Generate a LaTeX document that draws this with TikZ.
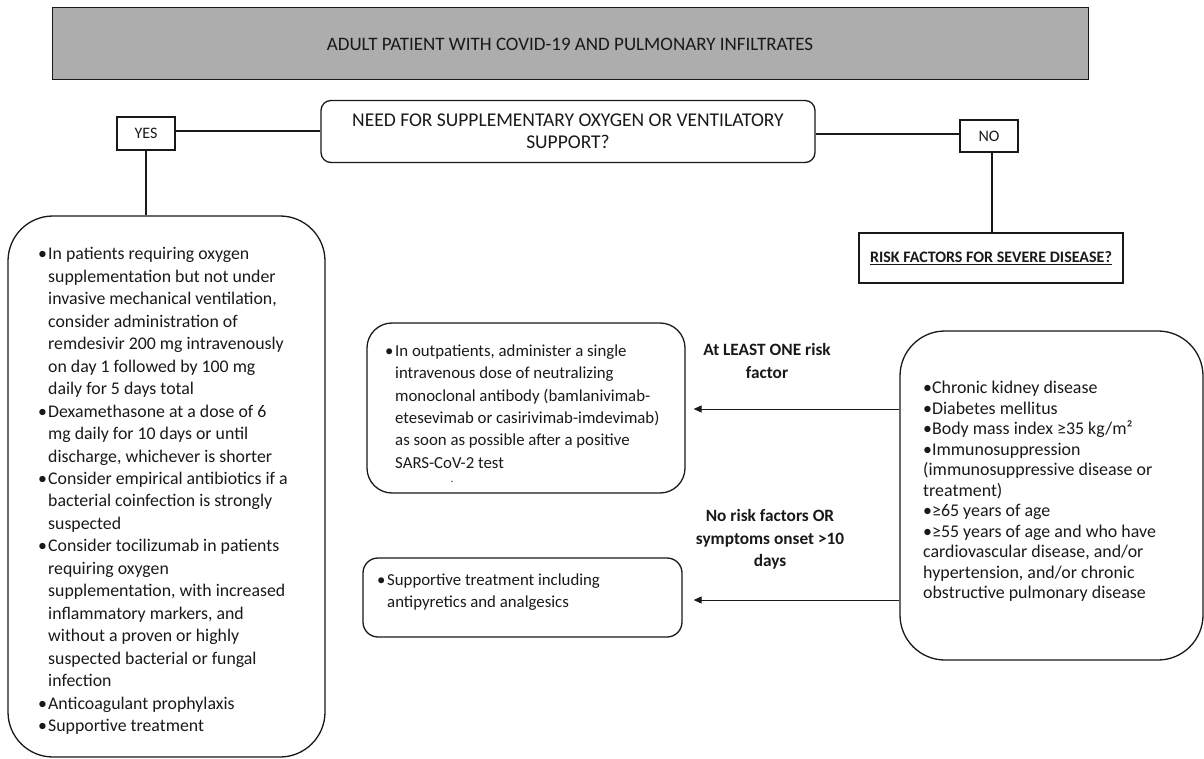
\documentclass[tikz,border=0pt]{standalone}
\usepackage{fontspec}
\setmainfont{Carlito}
\usetikzlibrary{arrows.meta}
\definecolor{hdrgray}{RGB}{173,173,173}
\definecolor{ink}{RGB}{25,25,25}
\newcommand{\bul}{\makebox[10pt][l]{•}}
\newcommand{\ind}{\hspace*{10pt}}
\begin{document}
\begin{tikzpicture}[x=1pt,y=-1pt,
  every node/.style={text=ink},
  rbox/.style={draw=ink, line width=1.3pt, rounded corners=#1, inner sep=0pt},
  sbox/.style={draw=ink, line width=1.5pt, inner sep=0pt},
  txt/.style={anchor=west, inner sep=0pt, align=left},
  link/.style={draw=ink, line width=2pt},
  arr/.style={draw=ink, line width=0.9pt, -{Triangle[length=8pt,width=7pt]}},
  lab/.style={font=\fontsize{17.3}{22.4}\selectfont\bfseries, align=center, inner sep=0pt}]
\useasboundingbox (0,0) rectangle (1204,759);

% header
\node[draw=ink, line width=1pt, fill=hdrgray, minimum width=1036pt, minimum height=72pt, inner sep=0pt,
  font=\fontsize{19}{22}\selectfont] (hdr) at (570,44)
  {ADULT PATIENT WITH COVID-19 AND PULMONARY INFILTRATES};

% question
\node[rbox=10pt, align=center, minimum width=494pt, minimum height=62pt,
  font=\fontsize{19.5}{22}\selectfont] (q) at (568,131.5)
  {NEED FOR SUPPLEMENTARY OXYGEN OR VENTILATORY\\SUPPORT?};

% yes / no
\node[sbox, minimum width=58pt, minimum height=33pt, font=\fontsize{16}{18}\selectfont] (yes) at (146,133.5) {YES};
\node[sbox, minimum width=58pt, minimum height=32pt, font=\fontsize{16}{18}\selectfont] (no) at (989,136) {NO};

% risk factors question
\node[sbox, minimum width=264pt, minimum height=50pt, font=\fontsize{16}{20}\selectfont\bfseries] (risk) at (991,258)
  {\underline{RISK FACTORS FOR SEVERE DISEASE?}};

% boxes
\node[rbox=45pt, minimum width=317pt, minimum height=541pt] (L) at (166.5,486.5) {};
\node[rbox=25pt, minimum width=318pt, minimum height=170pt] (m1) at (526,408) {};
\node[rbox=15pt, minimum width=319pt, minimum height=79pt] (m2) at (522.5,597.5) {};
\node[rbox=45pt, minimum width=303pt, minimum height=329pt] (R) at (1051.5,495.5) {};

% box texts
\node[txt, font=\fontsize{17.8}{22.45}\selectfont] (Lt) at (38,491)
  {\bul In patients requiring oxygen\\
   \ind supplementation but not under\\
   \ind invasive mechanical ventilation,\\
   \ind consider administration of\\
   \ind remdesivir 200 mg intravenously\\
   \ind on day 1 followed by 100 mg\\
   \ind daily for 5 days total\\
   \bul Dexamethasone at a dose of 6\\
   \ind mg daily for 10 days or until\\
   \ind discharge, whichever is shorter\\
   \bul Consider empirical antibiotics if a\\
   \ind bacterial coinfection is strongly\\
   \ind suspected\\
   \bul Consider tocilizumab in patients\\
   \ind requiring oxygen\\
   \ind supplementation, with increased\\
   \ind inflammatory markers, and\\
   \ind without a proven or highly\\
   \ind suspected bacterial or fungal\\
   \ind infection\\
   \bul Anticoagulant prophylaxis\\
   \bul Supportive treatment};

\node[txt, font=\fontsize{16.8}{22.4}\selectfont] (m1t) at (385,406.5)
  {\bul In outpatients, administer a single\\
   \ind intravenous dose of neutralizing\\
   \ind monoclonal antibody (bamlanivimab-\\
   \ind etesevimab or casirivimab-imdevimab)\\
   \ind as soon as possible after a positive\\
   \ind SARS-CoV-2 test};
\node[inner sep=0pt, font=\fontsize{11}{12}\selectfont] (m1dot) at (452,482) {.};

\node[txt, font=\fontsize{16.8}{22.4}\selectfont] (m2t) at (377,592)
  {\bul Supportive treatment including\\
   \ind antipyretics and analgesics};

\node[txt, font=\fontsize{17.9}{20.5}\selectfont] (Rt) at (923,491.5)
  {•Chronic kidney disease\\
   •Diabetes mellitus\\
   •Body mass index ≥35 kg/m²\\
   •Immunosuppression\\
   (immunosuppressive disease or\\
   treatment)\\
   •≥65 years of age\\
   •≥55 years of age and who have\\
   cardiovascular disease, and/or\\
   hypertension, and/or chronic\\
   obstructive pulmonary disease};

% connectors
\draw[link] (q.west |- 0,131) -- (yes.east |- 0,131);
\draw[link] (q.east |- 0,134) -- (no.west |- 0,134);
\draw[link] (yes.south) -- (yes.south |- L.north);
\draw[link] ([xshift=3pt]no.south) -- ([xshift=3pt]no.south |- risk.north);

\draw[arr] (R.west |- 0,409) -- ([xshift=8pt]m1.east |- 0,409);
\draw[arr] (R.west |- 0,600) -- ([xshift=11pt]m2.east |- 0,600);

% edge labels
\node[lab] (l1) at (767,361) {At LEAST ONE risk\\factor};
\node[lab] (l2) at (770,539.5) {No risk factors OR\\symptoms onset >10\\days};
\end{tikzpicture}
\end{document}
